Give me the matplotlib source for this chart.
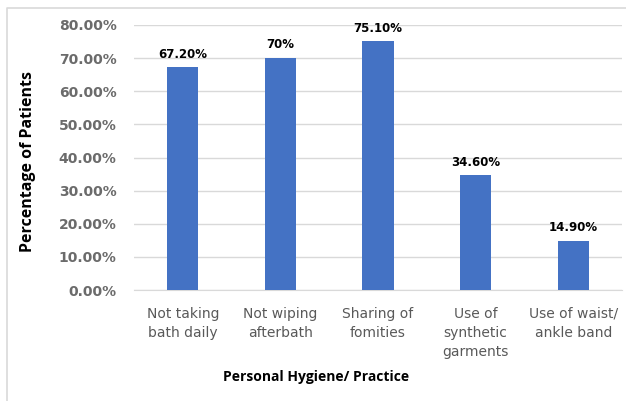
import matplotlib
matplotlib.use('Agg')
import matplotlib.pyplot as plt
from matplotlib.lines import Line2D

categories = ['Not taking\nbath daily', 'Not wiping\nafterbath', 'Sharing of\nfomities',
              'Use of\nsynthetic\ngarments', 'Use of waist/\nankle band']
values = [67.2, 70.0, 75.1, 34.6, 14.9]
labels = ['67.20%', '70%', '75.10%', '34.60%', '14.90%']
yticks = [0, 10, 20, 30, 40, 50, 60, 70, 80]

plt.rcParams['font.family'] = ['DejaVu Sans']

fig = plt.figure(figsize=(6.26, 4.01), dpi=100)
# chart border (only top and left edges are visible in the cropped picture)
fig.lines.append(Line2D([7 / 626, 7 / 626, 1], [0, 1 - 8 / 401, 1 - 8 / 401],
                        transform=fig.transFigure, color='#d9d9d9', linewidth=1.2))
ax = fig.add_axes([134 / 626, 1 - 290 / 401, 488 / 626, 265 / 401])

x = range(len(categories))
ax.bar(x, values, width=0.32, color='#4472C4', zorder=3)
for i, v in enumerate(values):
    ax.text(i, v + 2.0, labels[i], ha='center', va='bottom', fontsize=8.5,
            fontweight='bold', color='#000000')

ax.set_xlim(-0.5, len(categories) - 0.5)
ax.set_ylim(0, 80)
ax.set_yticks(yticks)
ax.set_yticklabels(['%.2f%%' % t for t in yticks], fontsize=10, fontweight='bold', color='#6b6b6b')
ax.set_xticks(list(x))
ax.set_xticklabels(categories, fontsize=10, color='#595959', linespacing=1.45)
ax.tick_params(axis='both', length=0)
ax.tick_params(axis='y', pad=12.5)
ax.tick_params(axis='x', pad=12)
ax.grid(axis='y', color='#d9d9d9', linewidth=1, zorder=0)
for s in ['top', 'right', 'left']:
    ax.spines[s].set_visible(False)
ax.spines['bottom'].set_color('#d9d9d9')

ax.set_xlabel('Personal Hygiene/ Practice', fontsize=10, fontweight='bold',
              family=['Open Sans', 'DejaVu Sans'])
ax.xaxis.set_label_coords((316 - 134) / 488, -0.30)
ax.set_ylabel('Percentage of Patients', fontsize=11.5, fontweight='bold',
              family=['Open Sans', 'DejaVu Sans'])
ax.yaxis.set_label_coords(-0.205 * 478 / 488, 0.485)

fig.savefig('out.png', dpi=100)
